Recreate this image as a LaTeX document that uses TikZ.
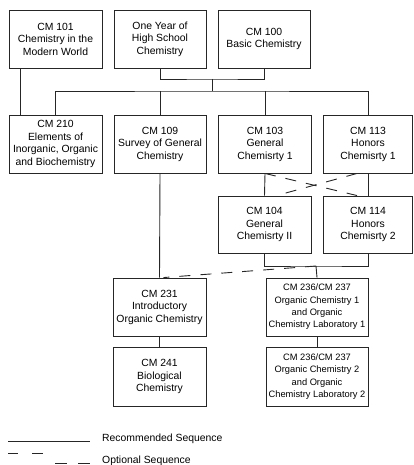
\documentclass[tikz,border=0pt]{standalone}
\usepackage{fontspec}
\setmainfont{Liberation Sans}
\usetikzlibrary{positioning}

\begin{document}
\begin{tikzpicture}[x=1pt,y=-1pt,
    course/.style={draw=black!85, line width=0.9pt, align=center, inner sep=0pt,
      minimum width=93pt, minimum height=58pt,
      font=\fontsize{10.4}{12.5}\selectfont},
    longcourse/.style={course, minimum width=102pt, font=\fontsize{9.3}{12.3}\selectfont},
    recommended/.style={draw=black!85, line width=0.9pt},
    optional/.style={draw=black!85, line width=0.9pt, dash pattern=on 11pt off 10pt},
    legendtext/.style={anchor=west, inner sep=0pt, font=\fontsize{10.4}{12.5}\selectfont}]
  \useasboundingbox (0,0) rectangle (413,465);

  \node[course] (cm101) at (55.5,39) {CM 101\\Chemistry in the\\Modern World};
  \node[course, minimum width=92pt] (hs) at (160,39) {One Year of\\High School\\Chemistry};
  \node[course, minimum width=92pt] (cm100) at (264,39) {CM 100\\Basic Chemistry};

  \node[course] (cm210) at (55.5,144) {CM 210\\Elements of\\Inorganic, Organic\\and Biochemistry};
  \node[course, minimum width=92pt] (cm109) at (160,144) {CM 109\\Survey of General\\Chemistry};
  \node[course] (cm103) at (265,144) {CM 103\\General\\Chemisrty 1};
  \node[course, minimum width=89.5pt] (cm113) at (368,144) {CM 113\\Honors\\Chemisrty 1};

  \node[course, minimum height=57pt] (cm104) at (264.5,224.5) {CM 104\\General\\Chemisrty II};
  \node[course, minimum width=89.5pt, minimum height=57pt] (cm114) at (368,224.5) {CM 114\\Honors\\Chemisrty 2};

  \node[course] (cm231) at (159.5,307) {CM 231\\Introductory\\Organic Chemistry};
  \node[longcourse] (cm236a) at (317,307) {CM 236/CM 237\\Organic Chemistry 1\\and Organic\\Chemistry Laboratory 1};

  \node[course, minimum height=59pt] (cm241) at (159.5,376.5) {CM 241\\Biological\\Chemistry};
  \node[longcourse, minimum height=59pt] (cm236b) at (317,376.5) {CM 236/CM 237\\Organic Chemistry 2\\and Organic\\Chemistry Laboratory 2};

  \coordinate (j1) at (212,79);
  \coordinate (j2) at (212,91);
  \coordinate (j3) at (316,266);

  \draw[recommended] ([xshift=12pt]cm101.south west) -- ([xshift=12pt]cm210.north west);
  \draw[recommended] (hs.south) |- (j1) -| (cm100.south);
  \draw[recommended] (j1) -- (j2);
  \draw[recommended] (cm210.north) |- (j2) -| (cm113.north);
  \draw[recommended] (cm109.north) -- (cm109.north |- j2);
  \draw[recommended] (cm103.north) -- (cm103.north |- j2);

  \draw[recommended] (cm103.south) -- (cm104.north);
  \draw[recommended] (cm113.south) -- (cm114.north);
  \draw[optional] (cm103.south) -- ([xshift=-11pt]cm114.north);
  \draw[optional] ([xshift=-11pt]cm113.south) -- ([xshift=12pt]cm104.north);

  \draw[recommended] (cm104.south) |- (j3) -| (cm114.south);
  \draw[recommended] (j3) -- (cm236a.north);
  \draw[optional] (j3) -- ([xshift=4pt]cm231.north);
  \draw[recommended] (cm109.south) -- (cm231.north);

  \draw[recommended] (cm231.south) -- (cm241.north);
  \draw[recommended] (cm236a.south) -- (cm236b.north);

  \node[legendtext] (rec) at (102,439) {Recommended Sequence};
  \node[legendtext] (opt) at (102,461) {Optional Sequence};
  \draw[recommended] (8,441) -- (90,441);
  \draw[recommended] (8,453) -- (18,453) (32,453) -- (43,453);
  \draw[recommended] (55,463) -- (67,463) (78,463) -- (90,463);
\end{tikzpicture}
\end{document}
